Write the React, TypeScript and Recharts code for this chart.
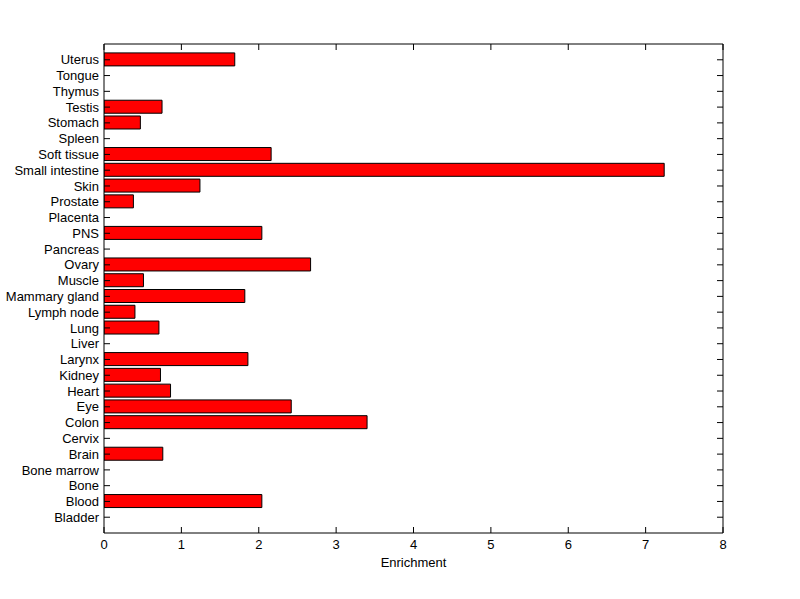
import React from 'react';
import { BarChart, Bar, XAxis, YAxis } from 'recharts';

const tissues = ['Uterus','Tongue','Thymus','Testis','Stomach','Spleen','Soft tissue','Small intestine','Skin','Prostate','Placenta','PNS','Pancreas','Ovary','Muscle','Mammary gland','Lymph node','Lung','Liver','Larynx','Kidney','Heart','Eye','Colon','Cervix','Brain','Bone marrow','Bone','Blood','Bladder'];
const enrichment = [1.69,0,0,0.75,0.47,0,2.16,7.24,1.24,0.38,0,2.04,0,2.67,0.51,1.82,0.40,0.71,0,1.86,0.73,0.86,2.42,3.40,0,0.76,0,0,2.04,0];
const xTicks = [0,1,2,3,4,5,6,7,8];

const data = tissues.map((name, i) => ({ name, value: enrichment[i] }));

const W = 800, H = 599;
const M = { top: 43, right: 76, bottom: 26, left: 4 };
const LEFT_W = 100, RIGHT_W = 1, TOP_H = 1, BOTTOM_H = 40;
const PL = M.left + LEFT_W;
const PR = W - M.right - RIGHT_W;
const PT = M.top + TOP_H;
const PB = H - M.bottom - BOTTOM_H;
const TL = 6;
const FF = '"Liberation Sans", Arial, sans-serif';

const BottomTick = (p: any) => (
  <g>
    <line x1={p.x} x2={p.x} y1={PB} y2={PB - TL} stroke="#000" />
    <text x={p.x} y={PB + 7} dy="0.71em" textAnchor="middle" fontFamily={FF} fontSize={13} fill="#000">{p.payload.value}</text>
  </g>
);
const TopTick = (p: any) => (
  <line x1={p.x} x2={p.x} y1={PT} y2={PT + TL} stroke="#000" />
);
const LeftTick = (p: any) => (
  <g>
    <line x1={PL} x2={PL + TL} y1={p.y} y2={p.y} stroke="#000" />
    <text x={PL - 5} y={p.y} dy="0.355em" textAnchor="end" fontFamily={FF} fontSize={13} fill="#000">{p.payload.value}</text>
  </g>
);
const RightTick = (p: any) => (
  <line x1={PR} x2={PR - TL} y1={p.y} y2={p.y} stroke="#000" />
);

export default function App() {
  return (
    <div style={{ position: 'absolute', left: 0, top: 0, width: W, height: H, background: '#fff' }}>
      <BarChart width={W} height={H} data={data} layout="vertical" margin={M} barSize={13}>
        <XAxis xAxisId="b" type="number" domain={[0, 8]} ticks={xTicks} allowDataOverflow
          orientation="bottom" height={BOTTOM_H} tickLine={false} tick={<BottomTick />}
          axisLine={{ stroke: '#000' }}
          label={{ value: 'Enrichment', position: 'insideBottom', offset: 6, style: { fontFamily: FF, fontSize: 13, fill: '#000' } }} />
        <XAxis xAxisId="t" type="number" domain={[0, 8]} ticks={xTicks} allowDataOverflow
          orientation="top" height={TOP_H} tickLine={false} tick={<TopTick />}
          axisLine={{ stroke: '#000' }} />
        <YAxis yAxisId="l" type="category" dataKey="name" orientation="left" width={LEFT_W}
          interval={0} tickLine={false} tick={<LeftTick />} padding={{ top: 7.9, bottom: 7.9 }}
          axisLine={{ stroke: '#000' }} />
        <YAxis yAxisId="r" type="category" dataKey="name" orientation="right" width={RIGHT_W}
          interval={0} tickLine={false} tick={<RightTick />} padding={{ top: 7.9, bottom: 7.9 }}
          axisLine={{ stroke: '#000' }} />
        <Bar dataKey="value" xAxisId="b" yAxisId="l" fill="#ff0000" stroke="#000" strokeWidth={1}
          isAnimationActive={false} />
      </BarChart>
    </div>
  );
}
